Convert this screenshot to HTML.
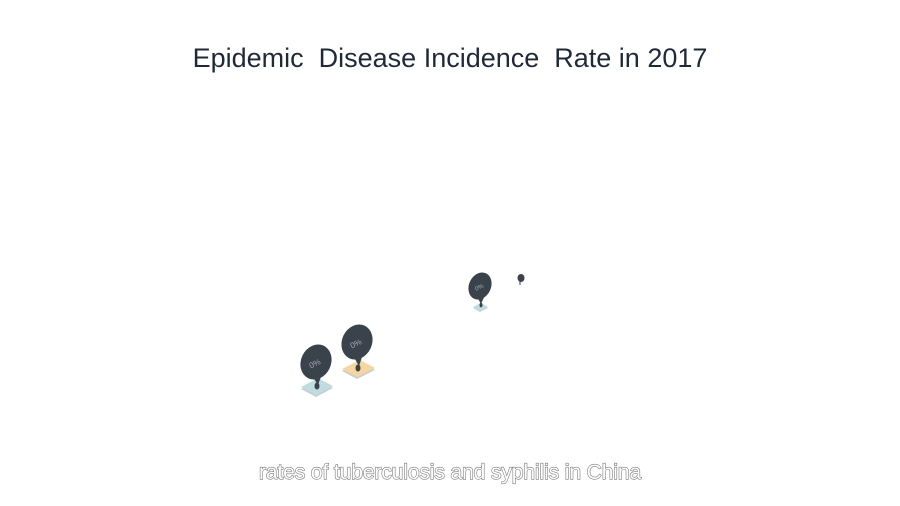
<!DOCTYPE html>
<html><head><style>
html,body{margin:0;padding:0;background:#fff;}
svg{display:block}
</style></head><body>
<svg width="900" height="506" viewBox="0 0 900 506" xmlns="http://www.w3.org/2000/svg">
<rect width="900" height="506" fill="#fff"/>
<text x="450" y="67" text-anchor="middle" font-family="Liberation Sans, sans-serif" font-size="27" fill="#1e2a3a" xml:space="preserve" style="white-space:pre">Epidemic  Disease Incidence  Rate in 2017</text>

<!-- pin 1 -->
<polygon points="301,389 318,380 333,388 316,397" fill="#c9ced3"/>
<polygon points="301,387 318,378 333,386 316,395" fill="#bfdde0"/>
<ellipse cx="317" cy="386" rx="2.5" ry="3.5" fill="#3a424c"/>
<polygon points="311,374 322,374 318,385" fill="#3a424c"/>
<ellipse cx="316" cy="362" rx="15" ry="18" transform="rotate(25 316 362)" fill="#3a424c"/>
<text x="316" y="366" text-anchor="middle" font-family="Liberation Sans, sans-serif" font-size="8" fill="#aab" transform="rotate(-25 316 366)">0%</text>

<!-- pin 2 -->
<polygon points="342,371 360,362 375,370 357,379" fill="#c9ced3"/>
<polygon points="342,369 360,360 375,368 357,377" fill="#f6d59e"/>
<ellipse cx="358" cy="368" rx="2.5" ry="3.5" fill="#3a424c"/>
<polygon points="352,354 363,354 359,366" fill="#3a424c"/>
<ellipse cx="357" cy="342" rx="15" ry="18" transform="rotate(25 357 342)" fill="#3a424c"/>
<text x="357" y="346" text-anchor="middle" font-family="Liberation Sans, sans-serif" font-size="8" fill="#aab" transform="rotate(-25 357 346)">0%</text>

<!-- pin 3 -->
<polygon points="473,308 481,304 488,308 480,312" fill="#c9ced3"/>
<polygon points="473,307 481,303 488,307 480,311" fill="#bfdde0"/>
<ellipse cx="481" cy="305" rx="1.5" ry="2.5" fill="#3a424c"/>
<polygon points="476,295 485,295 481,304" fill="#3a424c"/>
<ellipse cx="480" cy="286" rx="11" ry="14" transform="rotate(25 480 286)" fill="#3a424c"/>
<text x="480" y="289" text-anchor="middle" font-family="Liberation Sans, sans-serif" font-size="6" fill="#aab" transform="rotate(-25 480 289)">0%</text>

<!-- pin 4 -->
<ellipse cx="521" cy="278" rx="3.5" ry="4" fill="#3a424c"/>
<line x1="520" y1="281" x2="520" y2="285" stroke="#3a424c" stroke-width="1"/>

<text x="450" y="479" text-anchor="middle" font-family="Liberation Sans, sans-serif" font-size="21" fill="#fff" stroke="#7a7a7a" stroke-width="1.2" paint-order="stroke" letter-spacing="-0.1">rates of tuberculosis and syphilis in China</text>
</svg>
</body></html>
